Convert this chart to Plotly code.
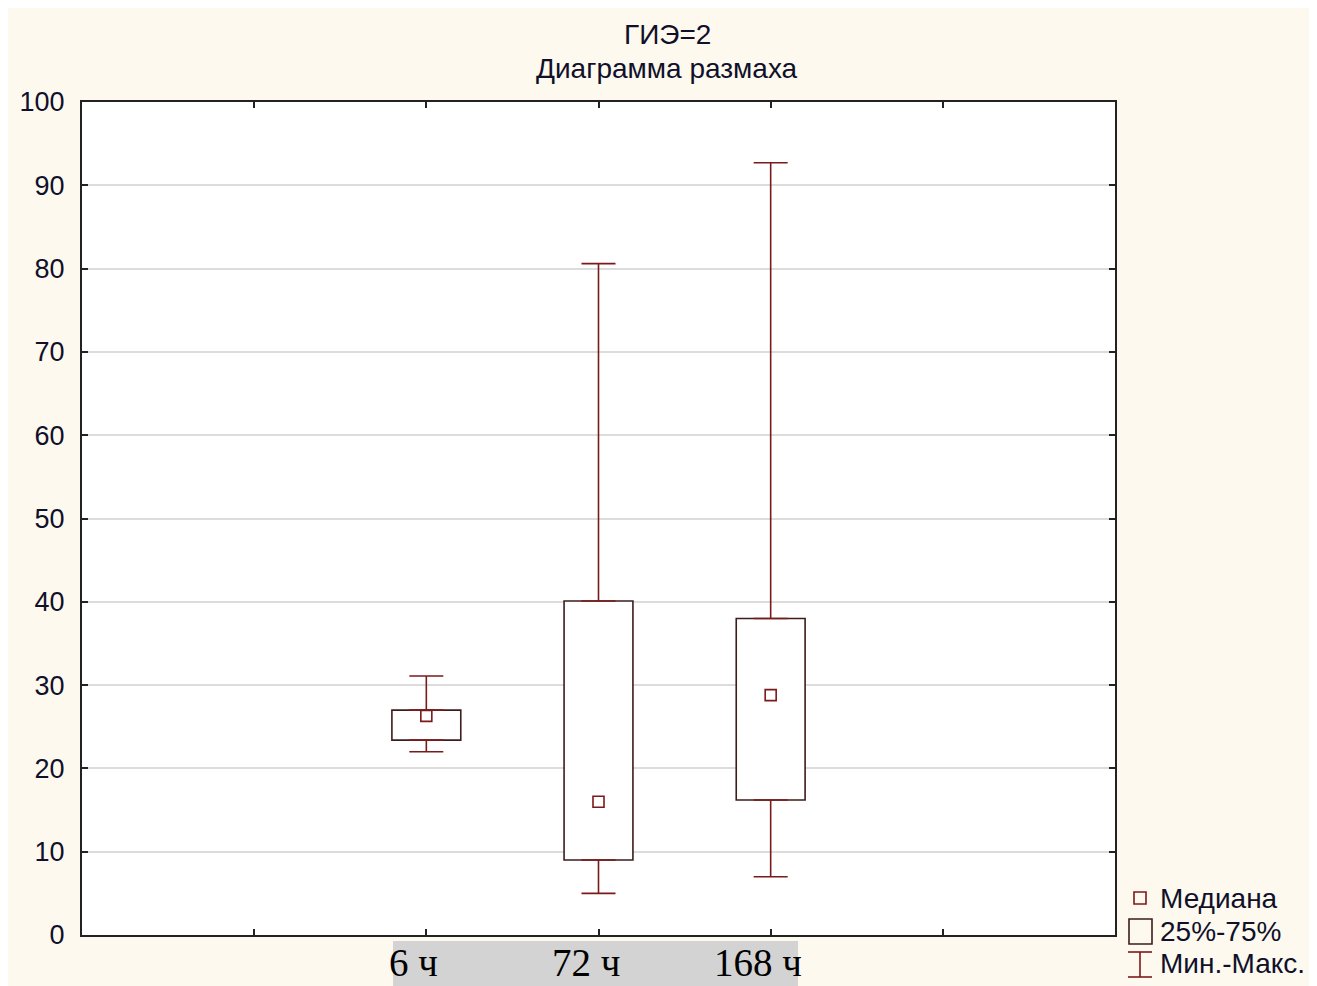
import plotly.graph_objects as go

# ---- data ----
categories = ["6 ч", "72 ч", "168 ч"]
positions = [2, 3, 4]
q_min = [22.0, 5.0, 7.0]
q1 = [23.4, 9.0, 16.2]
median = [26.3, 16.0, 28.8]
q3 = [27.0, 40.1, 38.0]
q_max = [31.1, 80.6, 92.7]
y_ticks = [0, 10, 20, 30, 40, 50, 60, 70, 80, 90, 100]
x_tick_positions = [1, 2, 3, 4, 5]
legend_labels = ["Медиана", "25%-75%", "Мин.-Макс."]
title_lines = ["ГИЭ=2", "Диаграмма размаха"]

# ---- layout geometry (page pixels; the page body adds an 8px offset) ----
OFF = 8
W, H = 1317, 986                          # figure size (overflow hidden)
L, R, T, B = 82, 1115, 102, 935           # plot area in page pixels
PW, PH = R - L, B - T


def px(x):
    return (x - L) / PW


def py(y):
    return (B - y) / PH


CREAM = "#FDF9EE"
DARK_RED = "#7B1A1A"
BOX_EDGE = "#3E1C1C"
TXT = "#10102A"
SANS = "Liberation Sans, Arial, sans-serif"
SERIF = "Liberation Serif, Times New Roman, serif"

fig = go.Figure()

# interquartile boxes
fig.add_trace(go.Bar(
    x=positions, base=q1, y=[b - a for a, b in zip(q1, q3)], width=0.4,
    marker=dict(color="white", line=dict(color=BOX_EDGE, width=1.6)),
    showlegend=False, hoverinfo="skip",
))

# upper whiskers
fig.add_trace(go.Scatter(
    x=positions, y=q3, mode="markers",
    marker=dict(size=1, color="rgba(0,0,0,0)"),
    error_y=dict(type="data", symmetric=False,
                 array=[m - q for m, q in zip(q_max, q3)],
                 arrayminus=[0] * len(q3),
                 color=DARK_RED, thickness=1.6, width=17),
    showlegend=False, hoverinfo="skip",
))
# lower whiskers
fig.add_trace(go.Scatter(
    x=positions, y=q1, mode="markers",
    marker=dict(size=1, color="rgba(0,0,0,0)"),
    error_y=dict(type="data", symmetric=False,
                 array=[0] * len(q1),
                 arrayminus=[q - m for q, m in zip(q1, q_min)],
                 color=DARK_RED, thickness=1.6, width=17),
    showlegend=False, hoverinfo="skip",
))
# medians
fig.add_trace(go.Scatter(
    x=positions, y=median, mode="markers",
    marker=dict(symbol="square", size=11, color="white",
                line=dict(color=DARK_RED, width=1.6)),
    showlegend=False, hoverinfo="skip",
))

shapes = [
    # gray band behind category labels
    dict(type="rect", xref="paper", yref="paper", layer="below",
         x0=px(393), x1=px(798), y0=py(990), y1=py(941),
         fillcolor="#D3D3D3", line=dict(width=0)),
    # legend symbols
    dict(type="rect", xref="paper", yref="paper",
         x0=px(1134), x1=px(1146), y0=py(904), y1=py(892),
         fillcolor="rgba(0,0,0,0)", line=dict(color=DARK_RED, width=1.6)),
    dict(type="rect", xref="paper", yref="paper",
         x0=px(1129), x1=px(1152), y0=py(944), y1=py(919),
         fillcolor="rgba(0,0,0,0)", line=dict(color=BOX_EDGE, width=1.6)),
    dict(type="line", xref="paper", yref="paper",
         x0=px(1140), x1=px(1140), y0=py(977), y1=py(952),
         line=dict(color=DARK_RED, width=1.6)),
    dict(type="line", xref="paper", yref="paper",
         x0=px(1128), x1=px(1152), y0=py(952), y1=py(952),
         line=dict(color=DARK_RED, width=1.6)),
    dict(type="line", xref="paper", yref="paper",
         x0=px(1128), x1=px(1152), y0=py(977), y1=py(977),
         line=dict(color=DARK_RED, width=1.6)),
]

annotations = []
# title
for line, ypix in zip(title_lines, [35, 69]):
    annotations.append(dict(
        text=line, xref="paper", yref="paper", x=px(667), y=py(ypix),
        xanchor="center", yanchor="middle", showarrow=False,
        font=dict(family=SANS, size=28, color=TXT)))
# category labels
for pos, cat in zip(positions, categories):
    annotations.append(dict(
        text=cat, xref="x", yref="paper", x=pos, y=py(962),
        xanchor="center", yanchor="middle", xshift=-13, showarrow=False,
        font=dict(family=SERIF, size=39, color="black")))
# legend labels
for lab, ypix in zip(legend_labels, [898, 931, 964]):
    annotations.append(dict(
        text=lab, xref="paper", yref="paper", x=px(1158), y=py(ypix),
        xanchor="left", yanchor="middle", showarrow=False,
        font=dict(family=SANS, size=28, color=TXT)))

fig.update_layout(
    width=W, height=H,
    margin=dict(l=L - OFF, r=W - (R - OFF), t=T - OFF, b=H - (B - OFF), pad=0),
    paper_bgcolor=CREAM, plot_bgcolor="white",
    showlegend=False, barmode="overlay",
    shapes=shapes, annotations=annotations,
    xaxis=dict(range=[0, 6], tickvals=x_tick_positions, showticklabels=False,
               ticks="inside", ticklen=6, tickwidth=2, tickcolor="#222",
               showline=True, linecolor="#222", linewidth=2, mirror="ticks",
               showgrid=False, zeroline=False, fixedrange=True),
    yaxis=dict(range=[0, 100], tickvals=y_ticks, ticks="inside", ticklen=6,
               tickwidth=2, tickcolor="#222",
               showline=True, linecolor="#222", linewidth=2, mirror="ticks",
               showgrid=True, gridcolor="#DCDCDC", gridwidth=1.5,
               zeroline=False, ticklabelstandoff=10,
               tickfont=dict(family=SANS, size=27, color=TXT), fixedrange=True),
)

fig.write_html(
    "out.html",
    post_script="document.documentElement.style.overflow='hidden';",
)
